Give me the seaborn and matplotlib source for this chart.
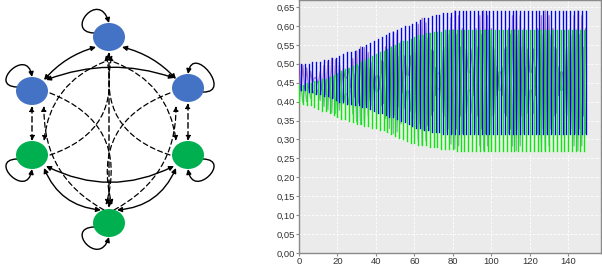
import matplotlib
matplotlib.use("Agg")
import matplotlib.pyplot as plt
import seaborn as sns
import pandas as pd
from matplotlib.patches import Ellipse, FancyArrowPatch
from matplotlib.path import Path

# ---------------- data ----------------
steps = list(range(150))

blue_even = [0.50, 0.50, 0.50, 0.505, 0.505, 0.505, 0.51, 0.51, 0.515, 0.515,
             0.52, 0.525, 0.53, 0.53, 0.535, 0.54, 0.545, 0.55, 0.555, 0.56,
             0.565, 0.57, 0.575, 0.58, 0.585, 0.59, 0.595, 0.60, 0.60, 0.605,
             0.61, 0.615, 0.62, 0.62, 0.625, 0.63, 0.63, 0.635, 0.635, 0.635,
             0.64, 0.64, 0.64, 0.64, 0.64, 0.64, 0.64, 0.64, 0.64, 0.64,
             0.64, 0.64, 0.64, 0.64, 0.64, 0.64, 0.64, 0.64, 0.64, 0.64,
             0.64, 0.64, 0.64, 0.64, 0.64, 0.64, 0.64, 0.64, 0.64, 0.64,
             0.64, 0.64, 0.64, 0.64, 0.64]
blue_odd = [0.43, 0.43, 0.425, 0.425, 0.42, 0.42, 0.415, 0.415, 0.41, 0.405,
            0.40, 0.40, 0.395, 0.395, 0.39, 0.39, 0.385, 0.385, 0.38, 0.375,
            0.37, 0.37, 0.365, 0.36, 0.36, 0.355, 0.35, 0.345, 0.34, 0.335,
            0.33, 0.33, 0.325, 0.325, 0.32, 0.32, 0.32, 0.315, 0.315, 0.315,
            0.315, 0.315, 0.315, 0.315, 0.315, 0.315, 0.315, 0.315, 0.315, 0.315,
            0.315, 0.315, 0.315, 0.315, 0.315, 0.315, 0.315, 0.315, 0.315, 0.315,
            0.315, 0.315, 0.315, 0.315, 0.315, 0.315, 0.315, 0.315, 0.315, 0.315,
            0.315, 0.315, 0.315, 0.315, 0.315]
green_even = [0.40, 0.395, 0.39, 0.39, 0.385, 0.38, 0.375, 0.375, 0.37, 0.365,
              0.36, 0.355, 0.355, 0.35, 0.345, 0.34, 0.34, 0.335, 0.335, 0.33,
              0.33, 0.325, 0.325, 0.32, 0.315, 0.31, 0.305, 0.30, 0.295, 0.29,
              0.29, 0.285, 0.285, 0.285, 0.28, 0.28, 0.28, 0.275, 0.275, 0.275,
              0.275, 0.27, 0.27, 0.27, 0.27, 0.27, 0.27, 0.27, 0.27, 0.27,
              0.27, 0.27, 0.27, 0.27, 0.27, 0.27, 0.27, 0.27, 0.27, 0.27,
              0.27, 0.27, 0.27, 0.27, 0.27, 0.27, 0.27, 0.27, 0.27, 0.27,
              0.27, 0.27, 0.27, 0.27, 0.27]
green_odd = [0.445, 0.445, 0.45, 0.45, 0.455, 0.455, 0.46, 0.46, 0.465, 0.47,
             0.475, 0.48, 0.485, 0.49, 0.495, 0.50, 0.505, 0.51, 0.515, 0.52,
             0.525, 0.53, 0.535, 0.54, 0.545, 0.55, 0.555, 0.56, 0.56, 0.565,
             0.57, 0.575, 0.575, 0.58, 0.58, 0.585, 0.585, 0.585, 0.59, 0.59,
             0.59, 0.59, 0.59, 0.59, 0.59, 0.59, 0.59, 0.59, 0.59, 0.59,
             0.59, 0.59, 0.59, 0.59, 0.59, 0.59, 0.59, 0.59, 0.59, 0.59,
             0.59, 0.59, 0.59, 0.59, 0.59, 0.59, 0.59, 0.59, 0.59, 0.59,
             0.59, 0.59, 0.59, 0.59, 0.59]
purple_even = [0.50, 0.497, 0.489, 0.480, 0.463, 0.446, 0.429, 0.419, 0.41, 0.409,
               0.417, 0.439, 0.463, 0.488, 0.514, 0.534, 0.545, 0.543, 0.530, 0.503,
               0.468, 0.432, 0.395, 0.369, 0.36, 0.364, 0.386, 0.424, 0.47, 0.521,
               0.569, 0.604, 0.62, 0.608, 0.581, 0.534, 0.475, 0.414, 0.361, 0.328,
               0.315, 0.328, 0.362, 0.416, 0.478, 0.539, 0.593, 0.627, 0.64, 0.627,
               0.593, 0.539, 0.478, 0.416, 0.362, 0.328, 0.315, 0.328, 0.362, 0.416,
               0.478, 0.539, 0.593, 0.627, 0.64, 0.627, 0.593, 0.539, 0.478, 0.416,
               0.362, 0.328, 0.315, 0.328, 0.362]
purple_odd = [0.43, 0.433, 0.436, 0.450, 0.463, 0.479, 0.496, 0.506, 0.515, 0.511,
              0.503, 0.486, 0.463, 0.437, 0.411, 0.396, 0.385, 0.392, 0.405, 0.432,
              0.468, 0.508, 0.545, 0.571, 0.585, 0.581, 0.559, 0.521, 0.47, 0.419,
              0.371, 0.341, 0.325, 0.337, 0.364, 0.416, 0.475, 0.536, 0.589, 0.622,
              0.64, 0.627, 0.593, 0.539, 0.478, 0.416, 0.362, 0.328, 0.315, 0.328,
              0.362, 0.416, 0.478, 0.539, 0.593, 0.627, 0.64, 0.627, 0.593, 0.539,
              0.478, 0.416, 0.362, 0.328, 0.315, 0.328, 0.362, 0.416, 0.478, 0.539,
              0.593, 0.627, 0.64, 0.627, 0.593]
teal_even = [0.40, 0.397, 0.399, 0.409, 0.42, 0.432, 0.448, 0.457, 0.465, 0.466,
             0.458, 0.441, 0.42, 0.393, 0.367, 0.346, 0.34, 0.342, 0.361, 0.389,
             0.428, 0.466, 0.505, 0.531, 0.545, 0.540, 0.519, 0.479, 0.428, 0.375,
             0.331, 0.297, 0.285, 0.297, 0.324, 0.375, 0.433, 0.489, 0.544, 0.577,
             0.59, 0.577, 0.544, 0.491, 0.43, 0.369, 0.316, 0.283, 0.27, 0.283,
             0.316, 0.369, 0.43, 0.491, 0.544, 0.577, 0.59, 0.577, 0.544, 0.491,
             0.43, 0.369, 0.316, 0.283, 0.27, 0.283, 0.316, 0.369, 0.43, 0.491,
             0.544, 0.577, 0.59, 0.577, 0.544]
teal_odd = [0.445, 0.443, 0.441, 0.431, 0.42, 0.403, 0.387, 0.378, 0.37, 0.369,
            0.377, 0.394, 0.42, 0.447, 0.473, 0.494, 0.505, 0.503, 0.489, 0.461,
            0.428, 0.389, 0.355, 0.329, 0.315, 0.320, 0.341, 0.381, 0.428, 0.480,
            0.529, 0.563, 0.575, 0.568, 0.537, 0.490, 0.433, 0.371, 0.321, 0.288,
            0.275, 0.283, 0.316, 0.369, 0.43, 0.491, 0.544, 0.577, 0.59, 0.577,
            0.544, 0.491, 0.43, 0.369, 0.316, 0.283, 0.27, 0.283, 0.316, 0.369,
            0.43, 0.491, 0.544, 0.577, 0.59, 0.577, 0.544, 0.491, 0.43, 0.369,
            0.316, 0.283, 0.27, 0.283, 0.316]

x_ticks = [0, 20, 40, 60, 80, 100, 120, 140]
y_ticks = [0.00, 0.05, 0.10, 0.15, 0.20, 0.25, 0.30, 0.35, 0.40, 0.45, 0.50, 0.55, 0.60, 0.65]
y_tick_labels = ["0,00", "0,05", "0,10", "0,15", "0,20", "0,25", "0,30", "0,35",
                 "0,40", "0,45", "0,50", "0,55", "0,60", "0,65"]

node_names = ["T", "UL", "UR", "LL", "LR", "B"]
node_groups = ["blue", "blue", "blue", "green", "green", "green"]


def interleave(a, b):
    out = []
    for p, q in zip(a, b):
        out.extend([p, q])
    return out


# zig-zag series (drawn as continuous lines)
zig = {
    "purple": interleave(purple_even, purple_odd),
    "teal": interleave(teal_even, teal_odd),
}
zig_df = pd.concat([pd.DataFrame({"t": steps, "value": v, "series": k}) for k, v in zig.items()],
                   ignore_index=True)


# main oscillations: each swing from trough to peak drawn as one stroke
def swings(peaks, troughs, name, offset):
    rows = []
    for k, (p, q) in enumerate(zip(peaks, troughs)):
        t = steps[2 * k + offset]
        rows.append({"t": t, "value": q, "series": name, "unit": k})
        rows.append({"t": t, "value": p, "series": name, "unit": k})
    return pd.DataFrame(rows)


blue_df = swings(blue_even, blue_odd, "blue", 1)
green_df = swings(green_odd, green_even, "green", 0)

# ---------------- figure ----------------
fig = plt.figure(figsize=(6.02, 2.68), dpi=100)
fig.patch.set_facecolor("white")

# ---- diagram ----
ax0 = fig.add_axes([0, 0, 240 / 602, 1])
ax0.set_xlim(0, 240)
ax0.set_ylim(268, 0)
ax0.axis("off")

pos = {"T": (109, 37), "UL": (32, 91), "UR": (188, 88),
       "LL": (32, 155), "LR": (188, 155), "B": (109, 223)}
fill = {"blue": "#4472C4", "green": "#00B050"}
for name, grp in zip(node_names, node_groups):
    ax0.add_patch(Ellipse(pos[name], 32, 28, facecolor=fill[grp], edgecolor="none", zorder=3))


def arrow(p1, p2, rad=0.0, style="-|>", dashed=False, lw=1.0):
    ls = (0, (4, 2.5)) if dashed else "-"
    a = FancyArrowPatch(p1, p2, arrowstyle=style, mutation_scale=7,
                        connectionstyle=f"arc3,rad={rad}", color="black",
                        lw=lw, linestyle=ls, shrinkA=0, shrinkB=0, zorder=2)
    ax0.add_patch(a)


# solid edges
arrow((44, 80), (96, 47), rad=-0.15, style="<|-|>")
arrow((122, 47), (176, 79), rad=-0.15, style="<|-|>")
arrow((46, 80), (174, 78), rad=-0.18, style="<|-|>")
arrow((46, 166), (174, 166), rad=0.25, style="<|-|>")
arrow((44, 168), (101, 210), rad=0.3, style="<|-|>")
arrow((176, 168), (117, 210), rad=-0.3, style="<|-|>")

# dashed straight edges
arrow((32, 106), (32, 141), style="<|-|>", dashed=True)
arrow((188, 103), (188, 141), style="<|-|>", dashed=True)
arrow((109, 52), (109, 208), style="<|-|>", dashed=True)

# dashed curves
arrow((50, 155), (106, 55), rad=0.45, style="-|>", dashed=True, lw=0.9)
arrow((50, 93), (106, 205), rad=-0.45, style="-|>", dashed=True, lw=0.9)
arrow((104, 62), (44, 141), rad=0.3, style="-|>", dashed=True, lw=0.9)
arrow((104, 210), (44, 106), rad=-0.3, style="-|>", dashed=True, lw=0.9)
arrow((170, 93), (112, 205), rad=0.45, style="-|>", dashed=True, lw=0.9)
arrow((170, 155), (112, 55), rad=-0.45, style="-|>", dashed=True, lw=0.9)
arrow((114, 62), (176, 141), rad=-0.3, style="-|>", dashed=True, lw=0.9)
arrow((114, 210), (176, 106), rad=0.3, style="-|>", dashed=True, lw=0.9)


def loop(name, a1, a2, c1, c2):
    cx, cy = pos[name]
    verts = [(cx + a1[0], cy + a1[1]), (cx + c1[0], cy + c1[1]),
             (cx + c2[0], cy + c2[1]), (cx + a2[0], cy + a2[1])]
    p = Path(verts, [Path.MOVETO, Path.CURVE4, Path.CURVE4, Path.CURVE4])
    ax0.add_patch(FancyArrowPatch(path=p, arrowstyle="-|>", mutation_scale=7,
                                  color="black", lw=1.0, zorder=2))


loop("T", (-15, -4), (0, -14), (-45, -5), (-10, -48))
loop("UL", (-15, -4), (0, -14), (-45, -5), (-5, -45))
loop("UR", (15, 4), (0, -14), (45, 5), (5, -45))
loop("LL", (-15, 4), (0, 14), (-45, 5), (-5, 45))
loop("LR", (15, 4), (0, 14), (45, 5), (5, 45))
loop("B", (-15, 4), (0, 14), (-45, 5), (-10, 45))

# ---- time series ----
ax1 = fig.add_axes([299 / 602, 15 / 268, 302 / 602, 253 / 268])
ax1.set_facecolor("#EBEBEB")

sns.lineplot(data=zig_df[zig_df["series"] == "teal"], x="t", y="value", color="#3F8F72",
             alpha=0.6, linewidth=0.9, ax=ax1, legend=False, zorder=3)
sns.lineplot(data=zig_df[zig_df["series"] == "purple"], x="t", y="value", color="#7A2E8E",
             alpha=0.6, linewidth=0.9, ax=ax1, legend=False, zorder=3)
sns.lineplot(data=green_df, x="t", y="value", units="unit", estimator=None, sort=False,
             color="#00F000", linewidth=0.95, ax=ax1, legend=False, zorder=4)
sns.lineplot(data=blue_df, x="t", y="value", units="unit", estimator=None, sort=False,
             color="#0000FF", linewidth=0.95, ax=ax1, legend=False, zorder=5)

ax1.set_xlim(0, 157)
ax1.set_ylim(0, 0.6685)
ax1.set_xticks(x_ticks)
ax1.set_yticks(y_ticks)
ax1.set_yticklabels(y_tick_labels)
ax1.set_xlabel("")
ax1.set_ylabel("")
ax1.grid(True, color="white", linestyle=(0, (3, 2)), linewidth=0.6, zorder=0)
ax1.set_axisbelow(True)
for s in ax1.spines.values():
    s.set_color("#8A8A8A")
    s.set_linewidth(1.0)
ax1.tick_params(axis="both", colors="#8A8A8A", labelcolor="#333333",
                labelsize=6.8, length=2, width=0.8, pad=1)
for lab in ax1.get_xticklabels() + ax1.get_yticklabels():
    lab.set_fontfamily("Liberation Sans")

fig.savefig("out.png", dpi=100)
